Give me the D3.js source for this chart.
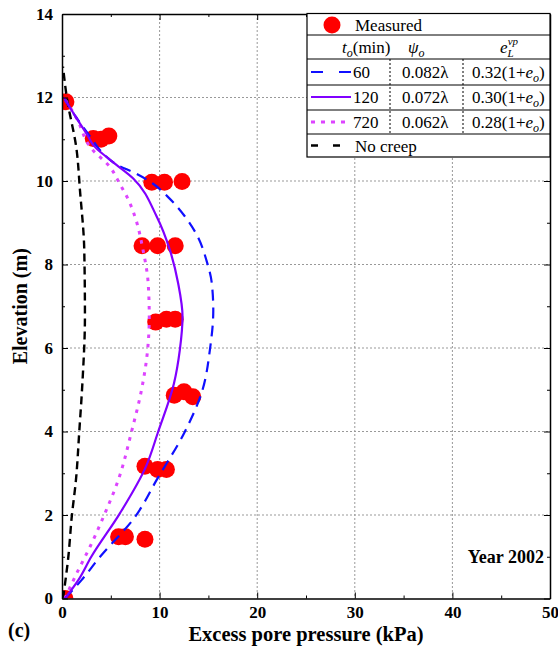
<!DOCTYPE html>
<html lang="en">
<head>
<meta charset="UTF-8">
<title>Excess pore pressure - Year 2002</title>
<script src="https://cdn.jsdelivr.net/npm/d3@7"></script>
<style>
  body { margin: 0; background: #fff; }
  svg text { font-family: "Liberation Serif", "Times New Roman", serif; }
</style>
</head>
<body>
<div id="chart"></div>
<script>
// measured excess pore pressure (kPa) and elevation (m)
const measuredP = [0.3, 0.4, 3.2, 4.0, 4.8, 9.2, 10.5, 12.3, 8.2, 9.8, 11.6, 9.6, 10.7, 11.6, 11.5, 12.5, 13.4, 8.5, 9.8, 10.7, 5.8, 6.5, 8.5];
const measuredE = [0.0, 11.9, 11.02, 11.0, 11.08, 9.97, 9.97, 9.99, 8.45, 8.45, 8.45, 6.62, 6.69, 6.69, 4.87, 4.95, 4.83, 3.17, 3.09, 3.09, 1.48, 1.48, 1.42];

// simulated profiles: elevation (m) / pressure (kPa)
const elev60 = [0, 0.44, 1.0, 1.96, 2.84, 4.0, 5.0, 5.95, 6.9, 7.55, 8.1, 8.67, 9.15, 9.62, 9.94, 10.2, 10.38, 10.66, 11.06, 11.63, 11.95];
const p60    = [0.3, 2.0, 3.9, 7.5, 9.7, 12.6, 14.4, 15.15, 15.5, 15.35, 14.8, 13.9, 12.6, 10.85, 9.3, 7.4, 5.7, 4.2, 2.9, 1.15, 0.3];

const elev120 = [0, 0.44, 1.0, 2.04, 3.16, 4.0, 5.15, 5.95, 6.75, 7.55, 8.35, 9.15, 10.06, 10.54, 10.86, 11.06, 11.5, 12.0];
const p120    = [0.3, 1.67, 3.0, 5.93, 8.6, 9.86, 11.47, 12.07, 12.35, 11.9, 11.05, 9.7, 7.3, 4.74, 3.2, 2.7, 1.5, 0.2];

const elev720 = [0, 0.6, 1.24, 2.04, 2.84, 4.0, 5.0, 5.95, 6.75, 7.55, 8.35, 9.15, 9.55, 9.94, 10.34, 10.78, 11.5, 12.0];
const p720    = [0.3, 1.5, 2.87, 4.4, 5.77, 7.13, 8.15, 8.77, 8.94, 8.83, 8.3, 7.47, 6.8, 5.9, 4.9, 3.0, 1.5, 0.2];

const elevNoCreep = [0, 1.0, 1.96, 2.84, 4.0, 5.2, 6.75, 8.35, 9.78, 10.74, 12.02, 12.74];
const pNoCreep    = [0.1, 0.65, 1.0, 1.43, 1.77, 2.1, 2.35, 2.28, 1.84, 1.5, 0.48, 0.1];

const pTicks = [0, 10, 20, 30, 40, 50];
const pMinor = [5, 15, 25, 35, 45];
const elevTicks = [0, 2, 4, 6, 8, 10, 12, 14];
const elevMinor = [1, 3, 5, 7, 9, 11, 13];

const legendRows = [
  { to: "60",  psi: "0.082λ", el: "0.32", color: "#1010ff", dash: "11,7", key: "12,16", width: 2.2 },
  { to: "120", psi: "0.072λ", el: "0.30", color: "#8000ff", dash: null,   key: null,    width: 2.2 },
  { to: "720", psi: "0.062λ", el: "0.28", color: "#dd44ff", dash: "3.5,6", key: "4,6",  width: 3 }
];

const W = 558, H = 649;
const pl = 62, pr = 550, pt = 14, pb = 598.5;

const svg = d3.select("#chart").append("svg")
  .attr("width", W).attr("height", H);

const x = d3.scaleLinear().domain([0, 50]).range([pl, pr]);
const y = d3.scaleLinear().domain([0, 14]).range([pb, pt]);

svg.append("defs").append("clipPath").attr("id", "plotclip")
  .append("rect").attr("x", pl).attr("y", pt)
  .attr("width", pr - pl).attr("height", pb - pt);

// grid
const grid = svg.append("g").attr("stroke", "#999").attr("stroke-width", 1)
  .attr("stroke-dasharray", "2,2");
grid.selectAll(".gx").data(pTicks.slice(1, -1)).join("line").attr("class", "gx")
  .attr("x1", d => x(d)).attr("x2", d => x(d)).attr("y1", pt).attr("y2", pb);
grid.selectAll(".gy").data(elevTicks.slice(1, -1)).join("line").attr("class", "gy")
  .attr("y1", d => y(d)).attr("y2", d => y(d)).attr("x1", pl).attr("x2", pr);

// curves
const plot = svg.append("g").attr("clip-path", "url(#plotclip)");
const line = d3.line()
  .x(d => x(d[0])).y(d => y(d[1]))
  .curve(d3.curveMonotoneY);

const series = [
  { p: pNoCreep, e: elevNoCreep, color: "#000", dash: "8,5", width: 2.4 },
  { p: p720, e: elev720, color: legendRows[2].color, dash: legendRows[2].dash, width: legendRows[2].width },
  { p: p60, e: elev60, color: legendRows[0].color, dash: legendRows[0].dash, width: legendRows[0].width },
  { p: p120, e: elev120, color: legendRows[1].color, dash: null, width: legendRows[1].width }
];

plot.selectAll("circle").data(measuredP.map((p, i) => [p, measuredE[i]])).join("circle")
  .attr("cx", d => x(d[0])).attr("cy", d => y(d[1])).attr("r", 8.5)
  .attr("fill", "#ff0000");

series.forEach(s => {
  plot.append("path")
    .datum(s.p.map((p, i) => [p, s.e[i]]))
    .attr("fill", "none")
    .attr("stroke", s.color)
    .attr("stroke-width", s.width)
    .attr("stroke-dasharray", s.dash)
    .attr("d", line);
});

// axes
const tickFont = g => g.selectAll("text")
  .attr("font-family", "Liberation Serif").attr("font-weight", "bold")
  .attr("font-size", 17).attr("fill", "#000");

svg.append("g").attr("transform", `translate(0,${pb})`)
  .call(d3.axisBottom(x).tickValues(pTicks).tickSize(-6).tickPadding(7).tickSizeOuter(0))
  .call(tickFont)
  .call(g => g.select(".domain").attr("stroke-width", 1.5));
svg.append("g").attr("transform", `translate(0,${pb})`)
  .call(d3.axisBottom(x).tickValues(pMinor).tickSize(-3).tickFormat("").tickSizeOuter(0))
  .call(g => g.select(".domain").remove());

svg.append("g").attr("transform", `translate(0,${pt})`)
  .call(d3.axisTop(x).tickValues(pTicks).tickSize(-6).tickFormat("").tickSizeOuter(0))
  .call(g => g.select(".domain").attr("stroke-width", 1.5));
svg.append("g").attr("transform", `translate(0,${pt})`)
  .call(d3.axisTop(x).tickValues(pMinor).tickSize(-3).tickFormat("").tickSizeOuter(0))
  .call(g => g.select(".domain").remove());

svg.append("g").attr("transform", `translate(${pl},0)`)
  .call(d3.axisLeft(y).tickValues(elevTicks).tickSize(-6).tickPadding(9).tickSizeOuter(0))
  .call(tickFont)
  .call(g => g.select(".domain").attr("stroke-width", 1.5));
svg.append("g").attr("transform", `translate(${pl},0)`)
  .call(d3.axisLeft(y).tickValues(elevMinor).tickSize(-3).tickFormat("").tickSizeOuter(0))
  .call(g => g.select(".domain").remove());

svg.append("g").attr("transform", `translate(${pr},0)`)
  .call(d3.axisRight(y).tickValues(elevTicks).tickSize(-6).tickFormat("").tickSizeOuter(0))
  .call(g => g.select(".domain").attr("stroke-width", 1.5));
svg.append("g").attr("transform", `translate(${pr},0)`)
  .call(d3.axisRight(y).tickValues(elevMinor).tickSize(-3).tickFormat("").tickSizeOuter(0))
  .call(g => g.select(".domain").remove());

// titles
svg.append("text").attr("x", (pl + pr) / 2).attr("y", 641)
  .attr("text-anchor", "middle").attr("font-weight", "bold").attr("font-size", 20.5)
  .text("Excess pore pressure (kPa)");
svg.append("text").attr("transform", `translate(27,${(pt + pb) / 2}) rotate(-90)`)
  .attr("text-anchor", "middle").attr("font-weight", "bold").attr("font-size", 20)
  .text("Elevation (m)");
svg.append("text").attr("x", 8).attr("y", 637)
  .attr("font-weight", "bold").attr("font-size", 20).text("(c)");
svg.append("text").attr("x", 544).attr("y", 563).attr("text-anchor", "end")
  .attr("font-weight", "bold").attr("font-size", 18).text("Year 2002");

// legend
const lg = svg.append("g").attr("transform", "translate(307,13.5)").attr("font-size", 17);
const lw = pr - 307, lh = 143.5;
lg.append("rect").attr("width", lw).attr("height", lh)
  .attr("fill", "#fff").attr("stroke", "#000").attr("stroke-width", 1.2);
[21.5, 45.5, 71.5, 96.5, 120.5].forEach(yy => {
  lg.append("line").attr("x1", 0).attr("x2", lw).attr("y1", yy).attr("y2", yy)
    .attr("stroke", "#000").attr("stroke-width", 1);
});
[83, 156].forEach(xx => {
  lg.append("line").attr("x1", xx).attr("x2", xx).attr("y1", 45.5).attr("y2", 120.5)
    .attr("stroke", "#000").attr("stroke-width", 1).attr("stroke-dasharray", "2,2");
});

lg.append("circle").attr("cx", 25).attr("cy", 11.5).attr("r", 8.5).attr("fill", "#ff0000");
lg.append("text").attr("x", 48).attr("y", 17).text("Measured");

const hdr = lg.append("g");
const t1 = hdr.append("text").attr("x", 35).attr("y", 39);
t1.append("tspan").attr("font-style", "italic").text("t");
t1.append("tspan").attr("font-style", "italic").attr("font-size", 12).attr("dy", 4).text("o");
t1.append("tspan").attr("dy", -4).text("(min)");
const t2 = hdr.append("text").attr("x", 101).attr("y", 39);
t2.append("tspan").attr("font-style", "italic").text("ψ");
t2.append("tspan").attr("font-style", "italic").attr("font-size", 12).attr("dy", 4).text("o");
const t3 = hdr.append("text").attr("x", 193).attr("y", 39);
t3.append("tspan").attr("font-style", "italic").text("e");
t3.append("tspan").attr("font-style", "italic").attr("font-size", 11).attr("dy", 4).text("L");
t3.append("tspan").attr("font-style", "italic").attr("font-size", 11)
  .attr("dx", -6).attr("dy", -12).text("vp");

legendRows.forEach((r, i) => {
  const cy = 58.5 + i * 25;
  lg.append("line").attr("x1", 4).attr("x2", 44).attr("y1", cy).attr("y2", cy)
    .attr("stroke", r.color).attr("stroke-width", r.width)
    .attr("stroke-dasharray", r.key);
  lg.append("text").attr("x", 46).attr("y", cy + 6).text(r.to);
  lg.append("text").attr("x", 95).attr("y", cy + 6).text(r.psi);
  const t = lg.append("text").attr("x", 165).attr("y", cy + 6);
  t.append("tspan").text(r.el + "(1+");
  t.append("tspan").attr("font-style", "italic").text("e");
  t.append("tspan").attr("font-style", "italic").attr("font-size", 12).attr("dy", 4).text("o");
  t.append("tspan").attr("dy", -4).text(")");
});

lg.append("line").attr("x1", 4).attr("x2", 44).attr("y1", 132).attr("y2", 132)
  .attr("stroke", "#000").attr("stroke-width", 2.4).attr("stroke-dasharray", "7,15");
lg.append("text").attr("x", 48).attr("y", 138).text("No creep");
</script>
</body>
</html>
